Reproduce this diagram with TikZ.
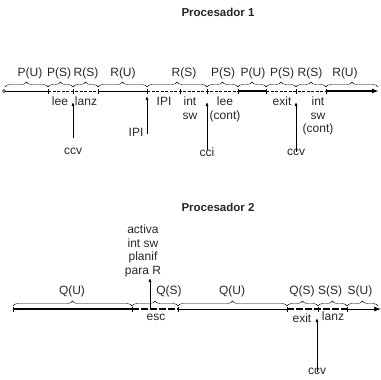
\documentclass[tikz,border=0pt]{standalone}
\usepackage{fontspec}
\setmainfont{Liberation Sans}
\usetikzlibrary{arrows.meta,decorations.pathreplacing}
\begin{document}
\begin{tikzpicture}[x=1pt,y=-1pt,
  lbl/.style={font=\fontsize{12}{13.5}\selectfont, inner sep=0pt, align=center, text=black!85},
  ttl/.style={font=\bfseries\fontsize{11.5}{13}\selectfont, inner sep=0pt, text=black!85},
  brc/.style={decorate, decoration={brace, amplitude=5pt}, line width=0.4pt},
  thinln/.style={line width=0.7pt},
  thickln/.style={line width=1.8pt},
  dashln/.style={line width=0.7pt, dash pattern=on 3pt off 1.5pt},
  tdashln/.style={line width=1.8pt, dash pattern=on 7pt off 2pt},
  evt/.style={-{Latex[length=4pt,width=3pt]}, line width=0.7pt},
  endarrow/.style={-{Latex[length=7pt,width=5pt]}},
  tickln/.style={line width=0.6pt}
]
\useasboundingbox (0,0) rectangle (381,380);

% ---------------- Procesador 1 ----------------
\node[ttl] (t1) at (218,12) {Procesador 1};

\coordinate (a0) at (4,91);
\coordinate (a1) at (48,91);
\coordinate (a2) at (73,91);
\coordinate (a3) at (98,91);
\coordinate (a4) at (147,91);
\coordinate (a5) at (180,91);
\coordinate (a6) at (207,91);
\coordinate (a7) at (238,91);
\coordinate (a8) at (266,91);
\coordinate (a9) at (296,91);
\coordinate (a10) at (326,91);
\coordinate (aend) at (379,91);

\draw[thinln] (a0) -- (a1);
\draw[dashln] (a1) -- (a3);
\draw[thinln] (a3) -- (a4);
\draw[dashln] (a4) -- (a7);
\draw[thickln] (a7) -- (a8);
\draw[dashln] (a8) -- (a10);
\draw[thickln,endarrow] (a10) -- (aend);
\draw[thinln,fill=white] (a0) circle (1.5pt);
\foreach \c in {a1,a2,a3,a4,a5,a6,a7,a8,a9,a10}
  \draw[tickln] ([yshift=-2.5pt]\c) -- ([yshift=2.5pt]\c);

% braces
\foreach \xa/\xb in {5/48,48/73,73/98,98/147,147/207,207/238,238/266,266/296,296/326,326/378}
  \draw[brc] (\xa,87) -- (\xb,87);

\node[lbl,anchor=base] (l1) at (30,76) {P(U)};
\node[lbl,anchor=base] (l2) at (59,76) {P(S)};
\node[lbl,anchor=base] (l3) at (86,76) {R(S)};
\node[lbl,anchor=base] (l4) at (123,76) {R(U)};
\node[lbl,anchor=base] (l5) at (184,76) {R(S)};
\node[lbl,anchor=base] (l6) at (223,76) {P(S)};
\node[lbl,anchor=base] (l7) at (253,76) {P(U)};
\node[lbl,anchor=base] (l8) at (282,76) {P(S)};
\node[lbl,anchor=base] (l9) at (310,76) {R(S)};
\node[lbl,anchor=base] (l10) at (345,76) {R(U)};

% labels below line 1
\node[lbl,anchor=north] (lee1) at (60,97) {lee};
\node[lbl,anchor=north] (lanz1) at (86,97) {lanz};
\node[lbl,anchor=north] (ipi1) at (164,97) {IPI};
\node[lbl,anchor=north] (intsw) at (190,97) {int\\sw};
\node[lbl,anchor=north] (leec) at (225,97) {lee\\(cont)};
\node[lbl,anchor=north] (exit1) at (282,97) {exit};
\node[lbl,anchor=north] (intswc) at (318,97) {int\\sw\\(cont)};

% events line 1
\coordinate (e1) at (73,102);
\coordinate (e1b) at (73,138);
\node[lbl] (ccv1) at (73,151) {ccv};
\draw[evt] (e1b) -- (e1);

\coordinate (e2) at (147,96);
\coordinate (e2b) at (147,134);
\node[lbl] (ipi2) at (136,132) {IPI};
\draw[evt] (e2b) -- (e2);

\coordinate (e3) at (207,102);
\node[lbl] (cci) at (207,152) {cci};
\draw[evt] ([yshift=-3pt]cci.north) -- (e3);

\coordinate (e4) at (296,102);
\node[lbl] (ccv2) at (296,152) {ccv};
\draw[evt] ([yshift=-3pt]ccv2.north) -- (e4);

% ---------------- Procesador 2 ----------------
\node[ttl] (t2) at (218,207) {Procesador 2};

\coordinate (b0) at (13,309);
\coordinate (b1) at (132,309);
\coordinate (b2) at (178,309);
\coordinate (b3) at (287,309);
\coordinate (b4) at (318,309);
\coordinate (b5) at (347,309);
\coordinate (bend) at (381,309);

\draw[thickln] (b0) -- (b1);
\draw[tdashln] (b1) -- (b2);
\draw[thinln] (b2) -- (b3);
\draw[tdashln] (b3) -- (b5);
\draw[thinln,endarrow] (b5) -- (bend);
\foreach \c in {b0,b1,b2,b3,b4,b5}
  \draw[tickln] ([yshift=-2.5pt]\c) -- ([yshift=2.5pt]\c);

\foreach \xa/\xb in {13/132,132/178,178/287,287/318,318/347,347/378}
  \draw[brc] (\xa,306) -- (\xb,306);

\node[lbl,anchor=base] (q1) at (72,294) {Q(U)};
\node[lbl,anchor=base] (q2) at (169,294) {Q(S)};
\node[lbl,anchor=base] (q3) at (232,294) {Q(U)};
\node[lbl,anchor=base] (q4) at (302,294) {Q(S)};
\node[lbl,anchor=base] (s1) at (330,294) {S(S)};
\node[lbl,anchor=base] (s2) at (360,294) {S(U)};

\node[lbl,anchor=south] (act) at (143,277) {activa\\int sw\\planif\\para R};
\coordinate (f1) at (150,309);
\coordinate (f1t) at (150,278);
\draw[evt] (f1) -- (f1t);

\node[lbl,anchor=north] (esc) at (156,314) {esc};
\node[lbl,anchor=north] (exit2) at (302,314) {exit};
\node[lbl,anchor=north] (lanz2) at (333,312) {lanz};

\coordinate (f2) at (317,318);
\node[lbl] (ccv3) at (317,371) {ccv};
\draw[evt] ([yshift=-4pt]ccv3.north) -- (f2);
\end{tikzpicture}
\end{document}
